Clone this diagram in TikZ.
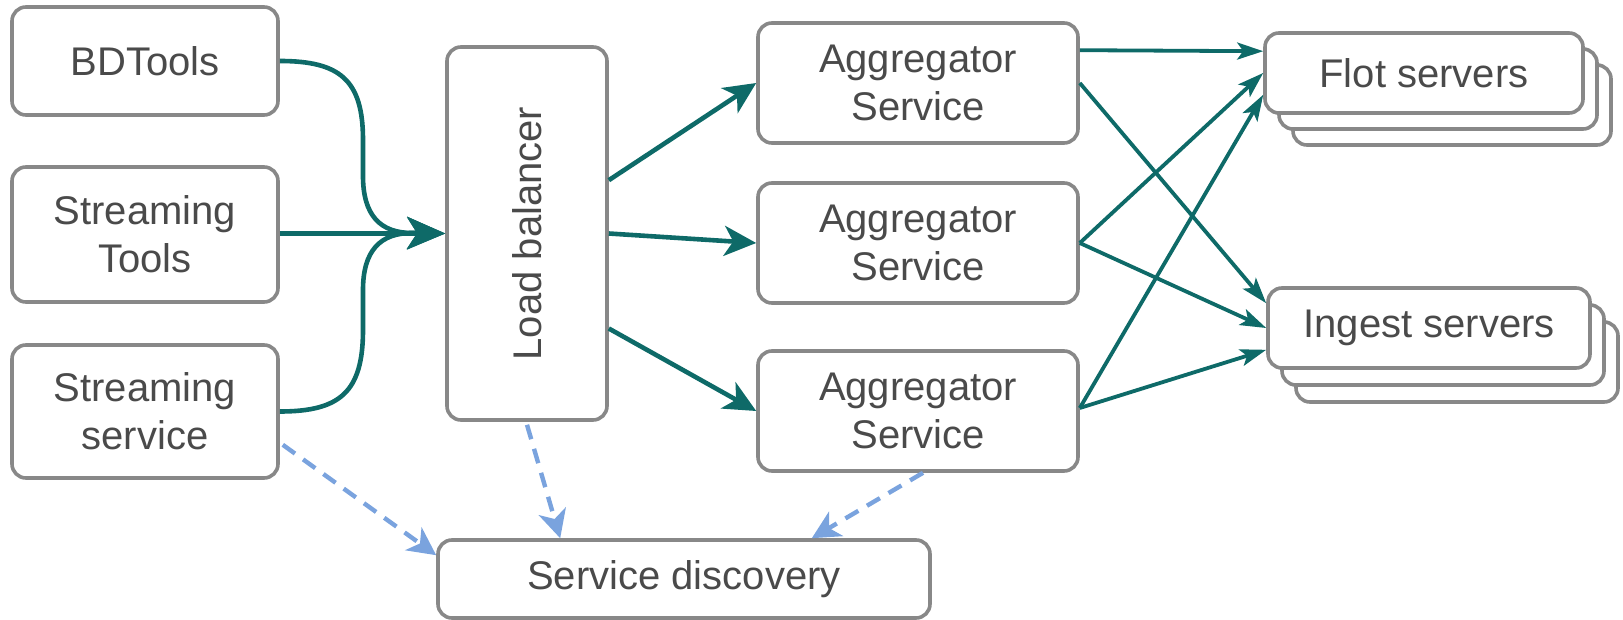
\documentclass[tikz,border=0pt]{standalone}
\usepackage{fontspec}
\setmainfont{Liberation Sans}
\usetikzlibrary{arrows.meta,calc}
\definecolor{flow}{RGB}{14,106,104}
\definecolor{lookup}{RGB}{122,163,222}
\definecolor{boxgray}{RGB}{136,136,136}
\definecolor{txtgray}{RGB}{74,74,74}
\begin{document}
\begin{tikzpicture}[x=0.5pt,y=-0.5pt,
  box/.style={draw=boxgray, line width=1.8pt, rounded corners=7pt, fill=white,
    text=txtgray, align=center, inner sep=0pt,
    font=\fontsize{20}{24}\selectfont},
  label text/.style={text=txtgray, inner sep=0pt, font=\fontsize{20}{24}\selectfont},
  flowline/.style={draw=flow, line width=2.3pt},
  bighead/.style={-{Stealth[length=19pt,width=16pt,inset=5pt]}},
  midhead/.style={-{Stealth[length=16pt,width=15pt,inset=4.5pt]}},
  smallhead/.style={-{Stealth[length=13pt,width=8.5pt,inset=3pt]}},
  srvline/.style={draw=flow, line width=1.9pt, smallhead},
  dashline/.style={draw=lookup, line width=2.2pt, dash pattern=on 7.5pt off 5pt,
    -{Stealth[length=14pt,width=14pt,inset=4pt]}}]

\useasboundingbox (0,0) rectangle (1623,620);

% clients
\node[box, minimum width=133pt, minimum height=54pt] (bd) at (145,61) {BDTools};
\node[box, minimum width=133pt, minimum height=67.5pt] (st) at (145,234.5) {Streaming\\Tools};
\node[box, minimum width=133pt, minimum height=66.5pt] (ss) at (145,411.5) {Streaming\\service};

% load balancer
\node[box, minimum width=80pt, minimum height=186.5pt] (lb) at (527,233.5) {};
\node[label text, rotate=90] (lbtext) at (lb.center) {Load balancer};

% aggregators
\node[box, minimum width=160pt, minimum height=60pt] (a1) at (918,83) {Aggregator\\Service};
\node[box, minimum width=160pt, minimum height=60pt] (a2) at (918,243) {Aggregator\\Service};
\node[box, minimum width=160pt, minimum height=60pt] (a3) at (918,411) {Aggregator\\Service};

% service discovery
\node[box, minimum width=246pt, minimum height=39pt] (sd) at (684,579) {Service discovery};

% server stacks
\node[box, minimum width=159pt, minimum height=40pt] (f3) at (1452,105) {};
\node[box, minimum width=159pt, minimum height=40pt] (f2) at (1438,89) {};
\node[box, minimum width=159pt, minimum height=40pt] (f1) at (1424,73) {Flot servers};

\node[box, minimum width=161pt, minimum height=40pt] (i3) at (1457,362) {};
\node[box, minimum width=161pt, minimum height=40pt] (i2) at (1443,345) {};
\node[box, minimum width=161pt, minimum height=40pt] (i1) at (1429,328) {Ingest servers};

% clients into the load balancer
\draw[flowline, bighead] (bd.east) .. controls (340,61) and (363,80) .. (363,140) -- (363,176)
  .. controls (363,215) and (380,233) .. (412,233) -- (lb.west);
\draw[flowline, bighead] (st.east |- lb.west) -- (lb.west);
\draw[flowline, bighead] (ss.east) .. controls (340,411.5) and (363,392) .. (363,330) -- (363,290)
  .. controls (363,251) and (380,233) .. (412,233) -- (lb.west);

% load balancer to aggregators
\draw[flowline, midhead] ($(lb.north east)+(0,135)$) -- (a1.west);
\draw[flowline, midhead] (lb.east) -- (a2.west);
\draw[flowline, midhead] ($(lb.east)+(0,95)$) -- (a3.west);

% aggregators to servers
\draw[srvline] ($(a1.north east)+(0,29)$) -- ($(f1.north west)+(0,20)$);
\draw[srvline] (a1.east) -- ($(i1.north west)+(0,17)$);
\draw[srvline] (a2.east) -- (f1.west);
\draw[srvline] (a2.east) -- (i1.west);
\draw[srvline] ($(a3.east)+(0,-3)$) -- ($(f1.south west)+(0,-20)$);
\draw[srvline] ($(a3.east)+(0,-3)$) -- ($(i1.south west)+(0,-20)$);

% lookups
\draw[dashline] ($(ss.south east)+(3,-35)$) -- ($(sd.north west)+(0,17)$);
\draw[dashline] ($(lb.south)+(0,3)$) -- ($(sd.north west)+(124,0)$);
\draw[dashline] ($(a3.south)+(5,0)$) -- ($(sd.north east)+(-120,0)$);
\end{tikzpicture}
\end{document}
